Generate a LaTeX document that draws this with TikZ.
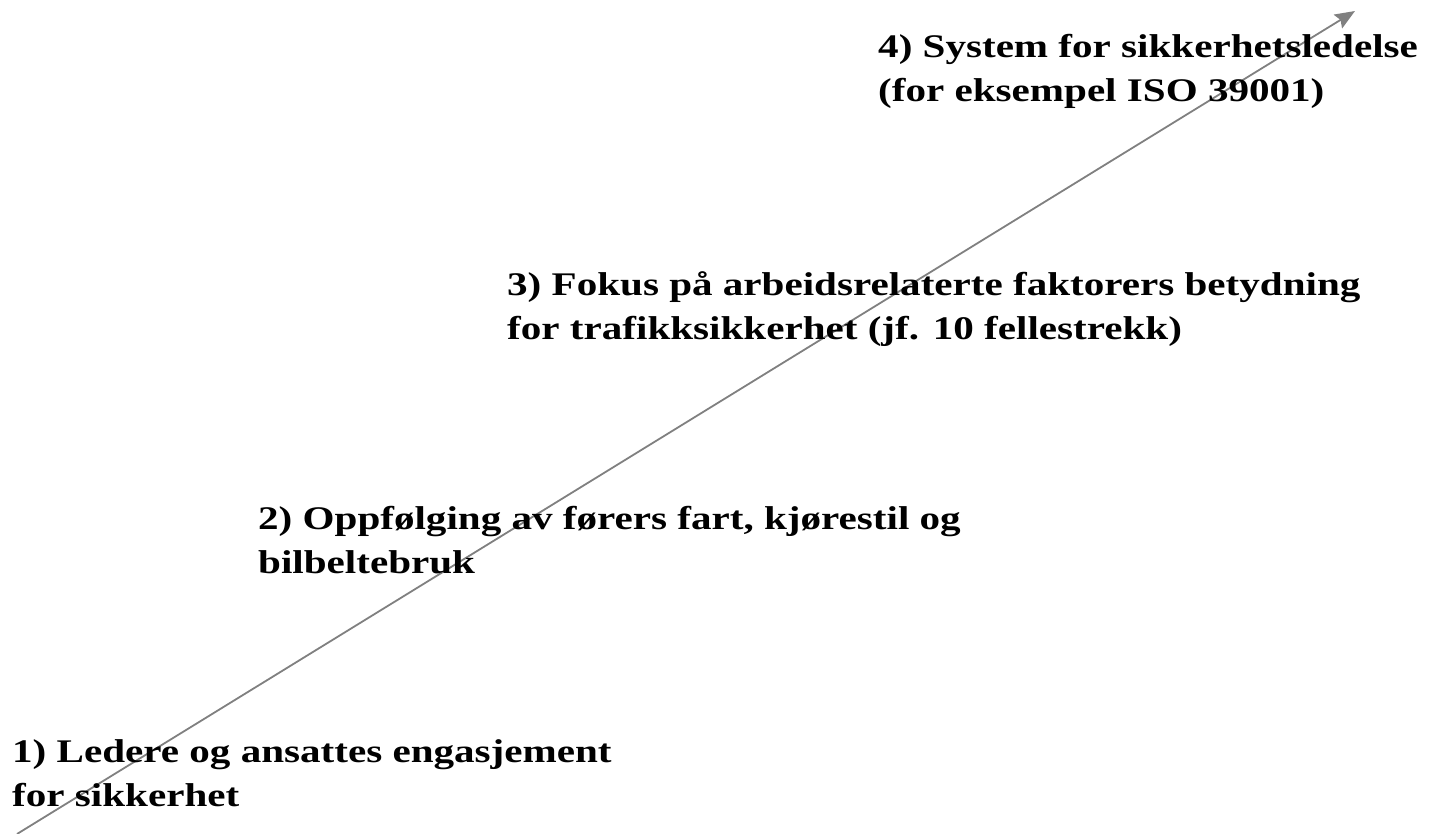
\documentclass[tikz,border=0pt]{standalone}
\usepackage{fontspec}
\setmainfont[FakeStretch=1.245]{Liberation Serif}
\usetikzlibrary{arrows.meta}
\begin{document}
\begin{tikzpicture}[x=1pt,y=-1pt,
  lbl/.style={anchor=base west,align=left,inner sep=0pt,
    font=\fontsize{33}{44}\selectfont\bfseries,text=black}]
\useasboundingbox (0,0) rectangle (1429,834);
\coordinate (s) at (17,834);
\coordinate (e) at (1355,11);
\draw[draw=gray,line width=1.8pt,-{Stealth[length=20pt,width=16pt,inset=3pt]}] (s) -- (e);
\node[lbl] (t1) at (12,806) {1) Ledere og ansattes engasjement\\for sikkerhet};
\node[lbl] (t2) at (258,573) {2) Oppfølging av førers fart, kjørestil og\\bilbeltebruk};
\node[lbl] (t3) at (507,339) {3) Fokus på arbeidsrelaterte faktorers betydning\\for trafikksikkerhet (jf. 10 fellestrekk)};
\node[lbl] (t4) at (878,102) {4) System for sikkerhetsledelse\\(for eksempel ISO 39001)};
\end{tikzpicture}
\end{document}
